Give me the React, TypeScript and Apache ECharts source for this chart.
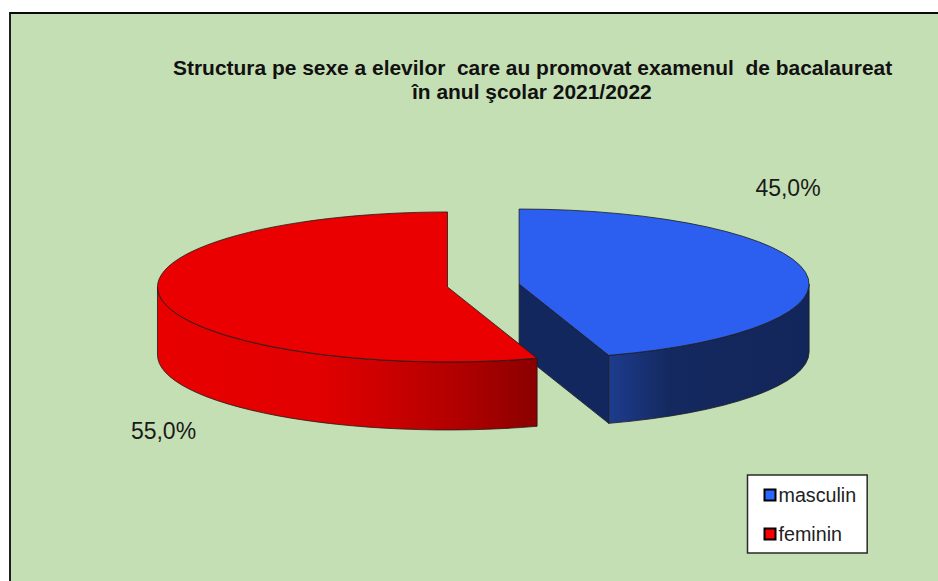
import React, { useEffect, useRef } from "react";
import * as echarts from "echarts";

const categories = ["masculin", "feminin"];
const shares = [45.0, 55.0];
const titleLines = [
  "Structura pe sexe a elevilor  care au promovat examenul  de bacalaureat",
  "în anul şcolar 2021/2022",
];

const topColors = ["#2c5ff0", "#ea0000"];
const legendColors = ["#2a66ff", "#ff0000"];
const wallColors = ["#13275f", "#8a0000"];
const sideStops = [
  [
    [0, "#1e3c8e"],
    [0.3, "#14295f"],
    [1, "#13265c"],
  ],
  [
    [0, "#e80000"],
    [0.42, "#e20000"],
    [0.6, "#cc0000"],
    [0.8, "#b00000"],
    [1, "#8a0000"],
  ],
];
const labelAnchors = [
  [788, 188],
  [163.5, 430.5],
];

const CX = 483.3;
const CY = 285.5;
const RX = 290;
const RY = 75;
const DEPTH = 68;
const EXPLODE = 0.125;
const EDGE = "#1c1c1c";
const FONT = '"Liberation Sans", Arial, sans-serif';

function pt(cx: number, cy: number, deg: number): [number, number] {
  const a = (deg * Math.PI) / 180;
  return [cx + RX * Math.sin(a), cy - RY * Math.cos(a)];
}

function renderSlice(index: number) {
  return (_params: any, api: any) => {
    const total = shares.reduce((s, v) => s + v, 0);
    const before = shares.slice(0, index).reduce((s, v) => s + v, 0);
    const value = api.value(0) as number;
    const a0 = (before / total) * 360;
    const a1 = ((before + value) / total) * 360;
    const mid = (((a0 + a1) / 2) * Math.PI) / 180;
    const cx = CX + EXPLODE * RX * Math.sin(mid);
    const cy = CY - EXPLODE * RY * Math.cos(mid);
    const [sx, sy] = pt(cx, cy, a0);
    const [ex, ey] = pt(cx, cy, a1);
    const large = a1 - a0 > 180 ? 1 : 0;
    const children: any[] = [];

    // A radial wall shows only when it faces the viewer
    const walls: [number, number][] = [];
    if (a1 > 0 && a1 < 180) walls.push([ex, ey]);
    if (a0 > 180 && a0 < 360) walls.push([sx, sy]);
    walls.forEach(([wx, wy]) => {
      children.push({
        type: "polygon",
        shape: { points: [[cx, cy], [wx, wy], [wx, wy + DEPTH], [cx, cy + DEPTH]] },
        style: { fill: wallColors[index], stroke: EDGE, lineWidth: 0.8 },
      });
    });

    // Outer rim: only the arc in the front half (90deg..270deg) is visible
    const r0 = Math.max(a0, 90);
    const r1 = Math.min(a1, 270);
    if (r1 > r0) {
      const [x0, y0] = pt(cx, cy, r0);
      const [x1, y1] = pt(cx, cy, r1);
      const d =
        `M${x0} ${y0}A${RX} ${RY} 0 0 1 ${x1} ${y1}` +
        `L${x1} ${y1 + DEPTH}A${RX} ${RY} 0 0 0 ${x0} ${y0 + DEPTH}Z`;
      const stops = sideStops[index].map(([offset, color]) => ({ offset, color }));
      children.push({
        type: "path",
        shape: { pathData: d },
        style: {
          fill: new echarts.graphic.LinearGradient(0, 0, 1, 0, stops as any),
          stroke: EDGE,
          lineWidth: 0.8,
        },
      });
    }

    // Top face
    children.push({
      type: "path",
      shape: {
        pathData: `M${cx} ${cy}L${sx} ${sy}A${RX} ${RY} 0 ${large} 1 ${ex} ${ey}Z`,
      },
      style: { fill: topColors[index], stroke: EDGE, lineWidth: 0.8 },
    });

    // Data label
    children.push({
      type: "text",
      x: labelAnchors[index][0],
      y: labelAnchors[index][1],
      style: {
        text: `${((value / total) * 100).toFixed(1).replace(".", ",")}%`,
        font: `23px ${FONT}`,
        fill: "#1a1a1a",
        align: "center",
        verticalAlign: "middle",
      },
    });

    return { type: "group", children };
  };
}

export default function App() {
  const ref = useRef<HTMLDivElement>(null);

  useEffect(() => {
    document.body.style.margin = "0";
    document.body.style.background = "#ffffff";
    const chart = echarts.init(ref.current!, undefined, { renderer: "svg" });
    const titleStyle = {
      fontFamily: FONT,
      fontSize: 20.95,
      fontWeight: "bold",
      color: "#111111",
    };
    chart.setOption({
      animation: false,
      backgroundColor: "#ffffff",
      textStyle: { fontFamily: FONT },
      graphic: [
        {
          type: "rect",
          z: -10,
          silent: true,
          shape: { x: 10, y: 13, width: 940, height: 580 },
          style: { fill: "#c5dfb4", stroke: "#0a0a0a", lineWidth: 1.8 },
        },
      ],
      title: [
        { text: titleLines[0], left: 173, top: 57, padding: 0, textStyle: titleStyle },
        { text: titleLines[1], left: 412, top: 81, padding: 0, textStyle: titleStyle },
      ],
      legend: {
        orient: "vertical",
        left: 747.5,
        top: 475,
        padding: [10, 11, 9, 16],
        itemGap: 19,
        itemWidth: 11,
        itemHeight: 11,
        icon: "rect",
        backgroundColor: "#ffffff",
        borderColor: "#2a2a2a",
        borderWidth: 1.5,
        selectedMode: false,
        textStyle: {
          fontFamily: FONT,
          fontSize: 19.7,
          color: "#222222",
          padding: [0, 0, 0, -2],
        },
        data: categories.map((name, i) => ({
          name,
          itemStyle: { color: legendColors[i], borderColor: "#000000", borderWidth: 2 },
        })),
      },
      series: categories.map((name, i) => ({
        type: "custom",
        name,
        coordinateSystem: "none",
        silent: true,
        z: i + 1,
        itemStyle: { color: legendColors[i] },
        renderItem: renderSlice(i),
        data: [[shares[i]]],
      })),
    });
    return () => chart.dispose();
  }, []);

  return <div ref={ref} style={{ position: "absolute", left: 0, top: 0, width: 938, height: 581 }} />;
}
